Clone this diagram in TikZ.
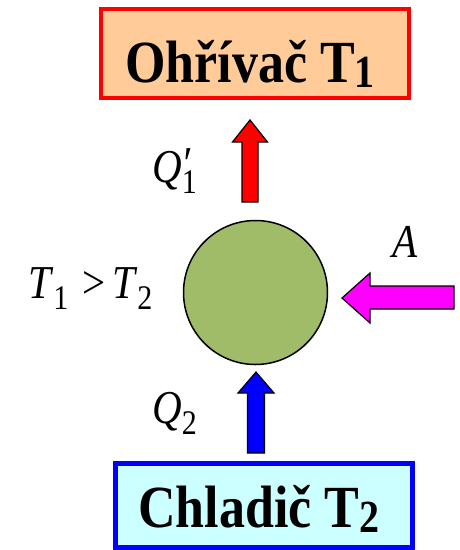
\documentclass[tikz,border=0pt]{standalone}
\usepackage{fontspec}
\usepackage{graphicx}
\setmainfont{Liberation Serif}
\definecolor{peach}{HTML}{FFCC99}
\definecolor{icecyan}{HTML}{CCFFFF}
\definecolor{olivegreen}{HTML}{A0BC68}
\definecolor{heatred}{HTML}{FF0000}
\definecolor{coolblue}{HTML}{0000FF}
\definecolor{workmag}{HTML}{FF00FF}
\newcommand\vst[1]{\scalebox{1}[1.15]{#1}}
\newcommand\bigbold[1]{{\fontsize{52}{60}\selectfont\bfseries #1}}
\newcommand\bigsub[1]{\raisebox{-5pt}{\fontsize{40}{44}\selectfont\bfseries #1}}
\newcommand\lab[1]{{\fontsize{41}{46}\selectfont #1}}
\newcommand\labsub[1]{\raisebox{-10pt}{\fontsize{30}{34}\selectfont #1}}
\begin{document}
\begin{tikzpicture}[x=1pt,y=-1pt,
  txt/.style={inner sep=0pt,anchor=base west},
  blockarrow/.style={draw=black,line width=1.2pt,line join=miter}]
\useasboundingbox (0,0) rectangle (459,550);
% boxes
\node[draw=heatred,fill=peach,line width=4pt,minimum width=308pt,minimum height=89pt,inner sep=0pt] (hot) at (255,53.5) {};
\node[draw=coolblue,fill=icecyan,line width=5pt,minimum width=297pt,minimum height=84pt,inner sep=0pt] (cold) at (264,505.5) {};
\node[txt] (hottext) at (125,82) {\vst{\bigbold{Ohřívač T}\bigsub{1}}};
\node[txt] (coldtext) at (138,527) {\vst{\bigbold{Chladič T}\bigsub{2}}};
% engine
\node[circle,draw=black,fill=olivegreen,line width=1.5pt,minimum size=144pt,inner sep=0pt] (engine) at (255.5,292.5) {};
% arrows
\coordinate (rt) at (250,120);
\fill[heatred] (rt) -- ++(17.5,22) -- ++(-9.5,0) -- ++(0,60) -- ++(-16,0) -- ++(0,-60) -- ++(-9.5,0) -- cycle;
\draw[blockarrow] (rt) -- ++(17.5,22) -- ++(-9.5,0) -- ++(0,60) -- ++(-16,0) -- ++(0,-60) -- ++(-9.5,0) -- cycle;
\coordinate (bt) at (256,372);
\fill[coolblue] (bt) -- ++(18,21) -- ++(-9.5,0) -- ++(0,60) -- ++(-17,0) -- ++(0,-60) -- ++(-9.5,0) -- cycle;
\draw[blockarrow] (bt) -- ++(18,21) -- ++(-9.5,0) -- ++(0,60) -- ++(-17,0) -- ++(0,-60) -- ++(-9.5,0) -- cycle;
\coordinate (mt) at (342,298);
\fill[workmag] (mt) -- ++(28,-25) -- ++(0,13) -- ++(84,0) -- ++(0,23) -- ++(-84,0) -- ++(0,14) -- cycle;
\draw[blockarrow] (mt) -- ++(28,-25) -- ++(0,13) -- ++(84,0) -- ++(0,23) -- ++(-84,0) -- ++(0,14) -- cycle;
% labels
\node[txt] (q1) at (152,182) {\vst{\lab{\textit{Q}\rlap{\raisebox{2pt}{\textit{\char"2032}}}}\labsub{1}}};
\node[txt] (q2) at (152,423) {\vst{\lab{\textit{Q}}\labsub{2}}};
\node[txt] (temps) at (28,298) {\vst{\lab{\textit{T}}\labsub{1}\lab{\,\,>\,\textit{T}}\labsub{2}}};
\node[txt] (work) at (392,257) {\vst{\lab{\textit{A}}}};
\end{tikzpicture}
\end{document}
